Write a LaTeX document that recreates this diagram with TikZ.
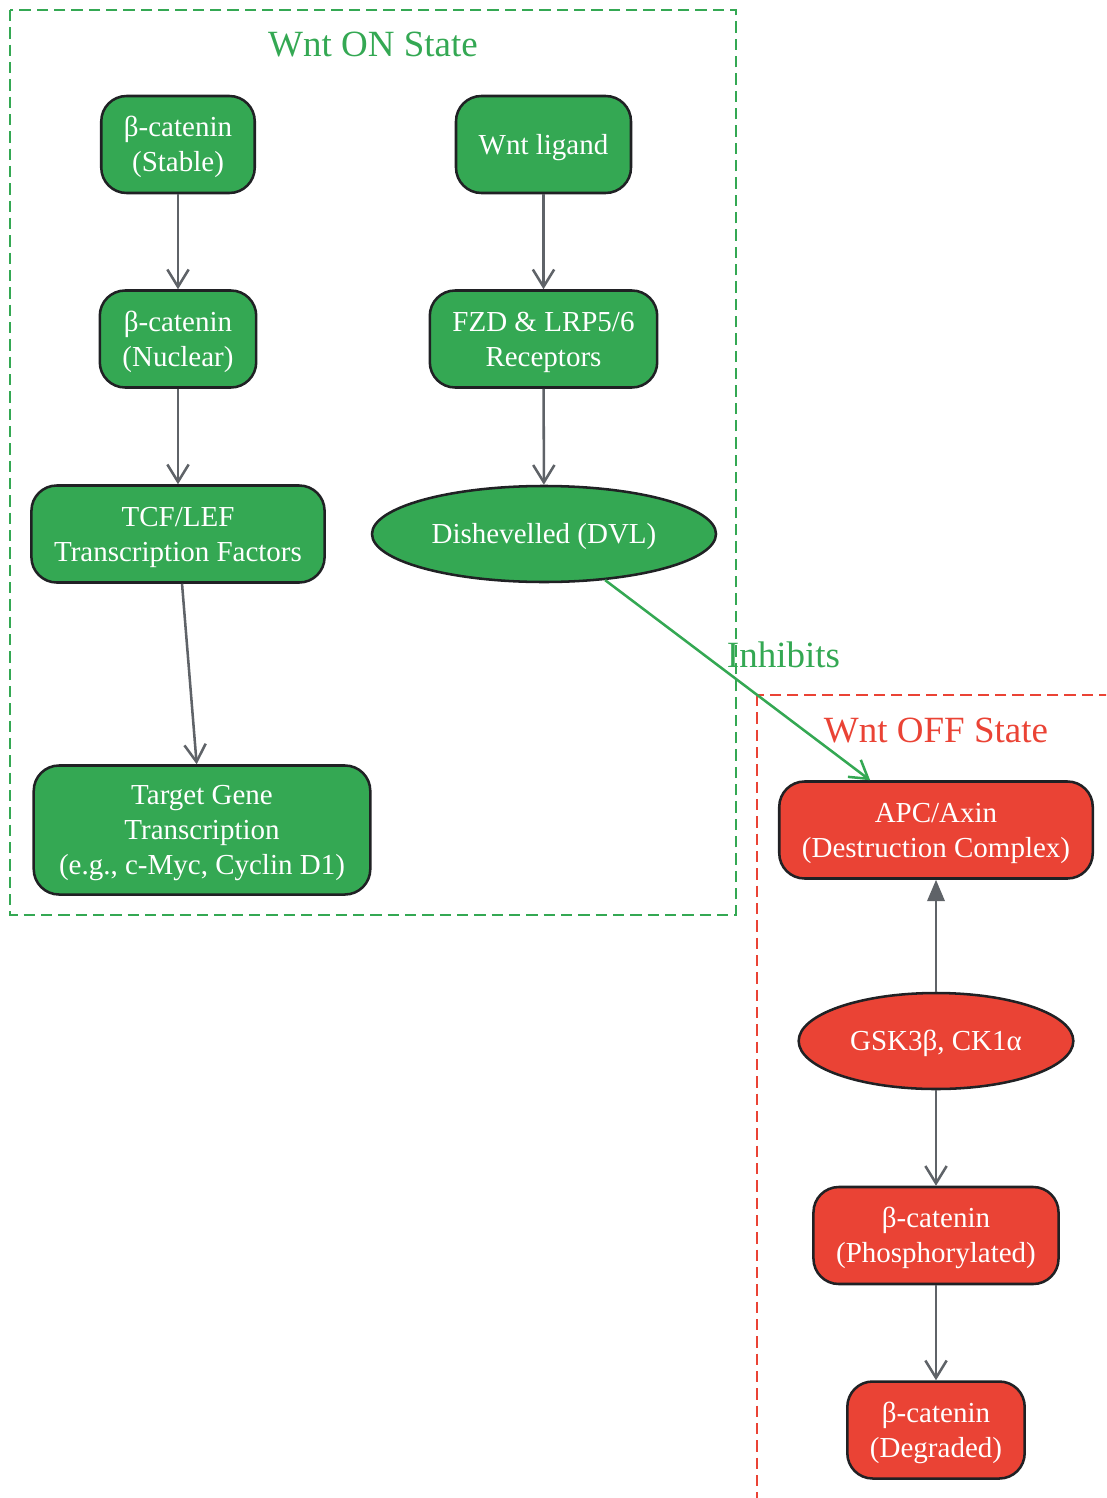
\documentclass[tikz,border=0pt]{standalone}
\usepackage{fontspec}
\setmainfont{Liberation Serif}
\usetikzlibrary{shapes.geometric,arrows.meta}
\definecolor{ongreen}{HTML}{34A853}
\definecolor{offred}{HTML}{EA4335}
\definecolor{linkgray}{HTML}{5F6368}
\definecolor{edgeblack}{HTML}{202124}
\newcommand\lift{\rule{0pt}{0.9em}}
\tikzset{every node/.append style={font=\fontsize{21.75}{26.25}\selectfont}}

\begin{document}
\begin{tikzpicture}[x=0.75pt, y=-0.75pt,
  box/.style={draw=edgeblack, line width=1.9pt, rounded corners=19pt, text=white, align=center,
    inner xsep=17pt, inner ysep=10.5pt, minimum height=72.75pt},
  oval/.style={draw=edgeblack, line width=1.9pt, ellipse, text=white, inner sep=0pt, minimum height=72pt},
  onstate/.style={fill=ongreen},
  offstate/.style={fill=offred},
  flow/.style={draw=linkgray, line width=1.9pt, -{Straight Barb[length=13pt,width=16pt]}},
  activate/.style={draw=linkgray, line width=1.9pt, -{Triangle[length=16pt,width=13pt]}},
  inhibit/.style={draw=ongreen, line width=1.9pt, -{Straight Barb[length=13pt,width=16pt]}},
  cluster/.style={line width=1.8pt, dash pattern=on 8.5pt off 4.5pt},
  clusterlabel/.style={font=\fontsize{27.75}{33}\selectfont}]

  \useasboundingbox (0,0) rectangle (1106,1498);

  \draw[cluster, draw=ongreen] (10,10) rectangle (736,915);
  \begin{scope}
    \clip (0,0) rectangle (1106,1498);
    \draw[cluster, draw=offred] (757,695) rectangle (1130,1530);
  \end{scope}
  \node[clusterlabel, text=ongreen] (onlabel) at (373,45) {Wnt ON State};
  \node[clusterlabel, text=offred] (offlabel) at (936,731) {Wnt OFF State};

  \node[box, onstate] (stable) at (178,144.5) {\lift β-catenin\\(Stable)};
  \node[box, onstate] (nuclear) at (178,339) {\lift β-catenin\\(Nuclear)};
  \node[box, onstate] (tcf) at (178,534) {\lift TCF/LEF\\Transcription Factors};
  \node[box, onstate, inner xsep=19pt, inner ysep=10pt] (target) at (202,830) {\lift Target Gene\\Transcription\\(e.g., c-Myc, Cyclin D1)};
  \node[box, onstate] (wnt) at (543.5,144.5) {\lift Wnt ligand};
  \node[box, onstate] (fzd) at (543.5,339) {\lift FZD \& LRP5/6\\Receptors};
  \node[oval, onstate, minimum width=258pt] (dvl) at (544,534) {\lift Dishevelled (DVL)};

  \node[box, offstate] (apc) at (936,830) {\lift APC/Axin\\(Destruction Complex)};
  \node[oval, offstate, minimum width=206pt] (gsk) at (936,1041) {\lift GSK3β, CK1α};
  \node[box, offstate] (phos) at (936,1235.5) {\lift β-catenin\\(Phosphorylated)};
  \node[box, offstate] (degraded) at (936,1430) {\lift β-catenin\\(Degraded)};

  \draw[flow] (stable) -- (nuclear);
  \draw[flow] (nuclear) -- (tcf);
  \draw[flow] (tcf) -- (target);
  \draw[flow] (wnt) -- (fzd);
  \draw[flow] (fzd) -- (dvl);
  \draw[inhibit] (dvl) -- (apc)
    node[pos=0.45, anchor=south west, inner sep=1pt, clusterlabel, text=ongreen] (inhibitlabel) {Inhibits};
  \draw[activate] (gsk) -- (apc);
  \draw[flow] (gsk) -- (phos);
  \draw[flow] (phos) -- (degraded);

\end{tikzpicture}
\end{document}
